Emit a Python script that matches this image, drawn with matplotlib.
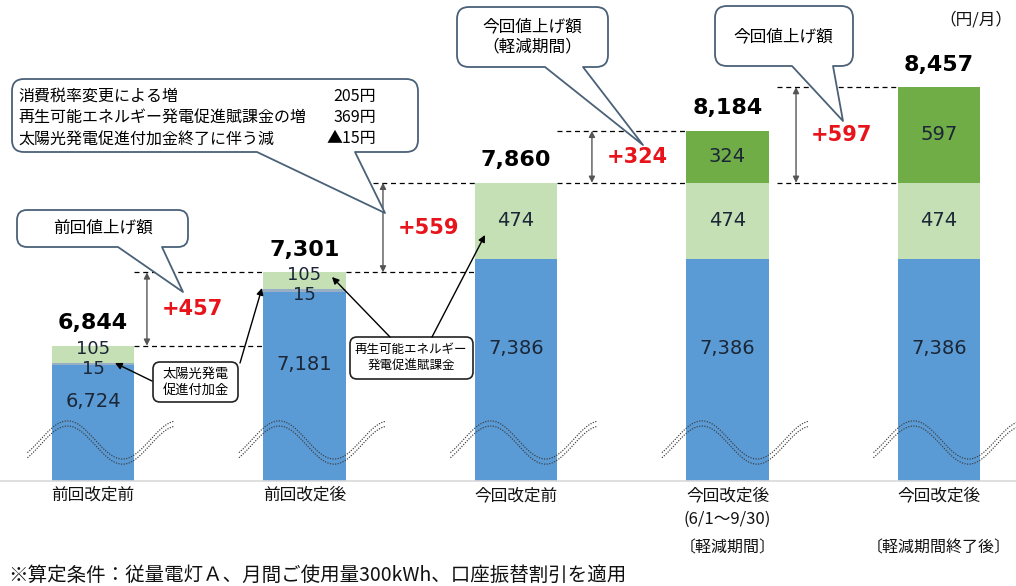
import matplotlib
matplotlib.use('Agg')
import matplotlib.pyplot as plt
import matplotlib.transforms as mtransforms
from matplotlib.path import Path
from matplotlib.patches import PathPatch
import numpy as np

plt.rcParams['font.family'] = ['Noto Sans CJK JP', 'DejaVu Sans']

# ---------------- data ----------------
categories = ['前回改定前', '前回改定後', '今回改定前', '今回改定後\n(6/1～9/30)', '今回改定後']
periods = ['', '', '', '〔軽減期間〕', '〔軽減期間終了後〕']
base = [6724, 7181, 7386, 7386, 7386]          # 基本部分
solar = [15, 15, 0, 0, 0]                      # 太陽光発電促進付加金
renew = [105, 105, 474, 474, 474]              # 再生可能エネルギー発電促進賦課金
increase = [0, 0, 0, 324, 597]                 # 今回値上げ額
delta_pairs = [(0, 1), (1, 2), (2, 3), (2, 4)]
cond_items = ['消費税率変更による増', '再生可能エネルギー発電促進賦課金の増', '太陽光発電促進付加金終了に伴う減']
cond_values = ['205円', '369円', '▲15円']
unit_label = '（円/月）'
footnote = '※算定条件：従量電灯Ａ、月間ご使用量300kWh、口座振替割引を適用'

# ---------------- colours ----------------
C_BASE = '#5B9BD5'
C_SOLAR = '#97AEC4'
C_RENEW = '#C5E0B4'
C_INC = '#70AD47'
C_EDGE = '#4A6178'
C_RED = '#E8141B'
C_LBL = '#1B2636'

W, H = 1016, 586
fig = plt.figure(figsize=(W / 100, H / 100), dpi=100)
ax = fig.add_axes([0, 1 - 481 / H, 1, 481 / H])
ax.set_xlim(-93 / 211.5, (W - 93) / 211.5)
ax.set_ylim(6000, 9000)
for s in ['top', 'left', 'right']:
    ax.spines[s].set_visible(False)
ax.spines['bottom'].set_color('#D9D9D9')
ax.spines['bottom'].set_linewidth(1.2)
ax.set_yticks([])
ax.set_xticks([])

x = np.arange(len(categories))
bw = 0.392
b1 = np.array(base, dtype=float)
b2 = b1 + np.array(solar)
b3 = b2 + np.array(renew)
totals = b3 + np.array(increase)

ax.bar(x, base, bw, color=C_BASE, zorder=2)
ax.bar(x, solar, bw, bottom=b1, color=C_SOLAR, zorder=2)
ax.bar(x, renew, bw, bottom=b2, color=C_RENEW, zorder=2)
ax.bar(x, increase, bw, bottom=b3, color=C_INC, zorder=2)

# break waves
for i in x:
    xs = np.linspace(i - 0.31, i + 0.385, 200)
    yc = 6240 + 119 * np.cos(np.pi * (xs - i + 0.12) / 0.26)
    for off in (16, -16):
        ax.plot(xs, yc + off, ls=(0, (1, 1.2)), color='#3A3A3A', lw=0.85, zorder=3)

# segment labels
for i in x:
    ax.text(i, (base[i] + 6270) / 2, f'{base[i]:,}', ha='center', va='center',
            fontsize=14, color=C_LBL, family='DejaVu Sans', zorder=4)
    if solar[i]:
        ax.annotate(f'{solar[i]}', (i, b1[i] + solar[i] / 2), xytext=(0, -3.5),
                    textcoords='offset points', ha='center', va='center',
                    fontsize=13, color=C_LBL, family='DejaVu Sans', zorder=4)
        ax.annotate(f'{renew[i]}', (i, b2[i] + renew[i] / 2), xytext=(0, 4),
                    textcoords='offset points', ha='center', va='center',
                    fontsize=13, color=C_LBL, family='DejaVu Sans', zorder=4)
    else:
        ax.text(i, b2[i] + renew[i] / 2, f'{renew[i]}', ha='center', va='center',
                fontsize=14, color=C_LBL, family='DejaVu Sans', zorder=4)
    if increase[i]:
        ax.text(i, b3[i] + increase[i] / 2, f'{increase[i]}', ha='center', va='center',
                fontsize=14, color=C_LBL, family='DejaVu Sans', zorder=4)
    ax.annotate(f'{int(totals[i]):,}', (i, totals[i]), xytext=(0, 9),
                textcoords='offset points', ha='center', va='bottom',
                fontsize=16, fontweight='bold', color='black', family='DejaVu Sans')

# dashed reference lines
def dline(y, xa, xb):
    ax.plot([xa, xb], [y, y], color='black', lw=0.9, ls=(0, (4, 3)), zorder=1)

R = lambda i: i + bw / 2
L = lambda i: i - bw / 2
dline(totals[0], R(0), L(1))
dline(totals[1], R(0), L(1))
dline(totals[1], R(1), L(2))
dline(totals[2], 1.324, L(2))
dline(totals[2], R(2), L(3))
dline(totals[3], R(2), L(3))
dline(totals[2], 3.234, L(4))
dline(totals[4], 3.234, L(4))

# delta arrows and labels
arrow_x = [0.255, 1.371, 2.359, 3.324]
for (a, b), xa in zip(delta_pairs, arrow_x):
    lo, hi = totals[a], totals[b]
    ax.annotate('', xy=(xa, hi), xytext=(xa, lo),
                arrowprops=dict(arrowstyle='<|-|>', color='#555555', lw=1.0,
                                mutation_scale=9, shrinkA=0, shrinkB=0))
    ax.text(xa + 0.215, (lo + hi) / 2, f'+{int(hi - lo)}', ha='center', va='center',
            fontsize=15, fontweight='bold', color=C_RED, family='DejaVu Sans')

# ---------------- overlay in pixel coordinates ----------------
ov = fig.add_axes([0, 0, 1, 1], facecolor='none')
ov.set_xlim(0, W)
ov.set_ylim(H, 0)
ov.axis('off')
bt = mtransforms.blended_transform_factory(ax.transData, ov.transData)

for i, (c, p) in enumerate(zip(categories, periods)):
    ov.text(i, 487, c, transform=bt, ha='center', va='top', fontsize=12,
            linespacing=1.55, color='#111111')
    if p:
        ov.text(i, 548, p, transform=bt, ha='center', va='center', fontsize=11.5,
                color='#111111')

ov.text(8, 575, footnote, ha='left', va='center', fontsize=14, color='#111111')
ov.text(1012, 20, unit_label, ha='right', va='center', fontsize=12, color='#111111')


def bubble(x0, y0, x1, y1, r, t1, t2, tip, lw=1.3):
    M, Li, C3, CL = Path.MOVETO, Path.LINETO, Path.CURVE3, Path.CLOSEPOLY
    verts = [(x0 + r, y0), (x1 - r, y0), (x1, y0), (x1, y0 + r), (x1, y1 - r),
             (x1, y1), (x1 - r, y1), (t2, y1), tip, (t1, y1), (x0 + r, y1),
             (x0, y1), (x0, y1 - r), (x0, y0 + r), (x0, y0), (x0 + r, y0), (x0 + r, y0)]
    codes = [M, Li, C3, C3, Li, C3, C3, Li, Li, Li, Li, C3, C3, Li, C3, C3, CL]
    ov.add_patch(PathPatch(Path(verts, codes), facecolor='white', edgecolor=C_EDGE,
                           lw=lw, joinstyle='round', zorder=5))


def rbox(x0, y0, x1, y1, r, ec='#222222', lw=1.2):
    bubble(x0, y0, x1, y1, r, (x0 + x1) / 2, (x0 + x1) / 2, ((x0 + x1) / 2, y1))
    ov.patches[-1].set_edgecolor(ec)
    ov.patches[-1].set_linewidth(lw)


# callout 1
bubble(17, 210, 188, 247, 10, 118, 162, (183, 292))
ov.text(103, 228, '前回値上げ額', ha='center', va='center', fontsize=12, zorder=6)
# callout 2 (big)
bubble(12, 79, 418, 152, 12, 257, 355, (385, 213))
for k, (t, v) in enumerate(zip(cond_items, cond_values)):
    yy = 96 + k * 21.5
    ov.text(18, yy, t, ha='left', va='center', fontsize=11.5, zorder=6)
    ov.text(376, yy, v, ha='right', va='center', fontsize=11.5, zorder=6)
# callout 3
bubble(457, 7, 608, 67, 12, 545, 583, (643, 145))
ov.text(532, 37, '今回値上げ額\n（軽減期間）', ha='center', va='center', fontsize=12,
        linespacing=1.25, zorder=6)
# callout 4
bubble(715, 6, 853, 66, 12, 792, 833, (843, 121))
ov.text(783, 37, '今回値上げ額', ha='center', va='center', fontsize=12, zorder=6)

# small label boxes
rbox(153, 362, 238, 402, 7)
ov.text(196, 382, '太陽光発電\n促進付加金', ha='center', va='center', fontsize=9.5,
        linespacing=1.3, zorder=6)
rbox(350, 337, 473, 379, 7)
ov.text(411, 358, '再生可能エネルギー\n発電促進賦課金', ha='center', va='center', fontsize=9,
        linespacing=1.3, zorder=6)

arr = dict(arrowstyle='-|>', color='black', lw=1.0, mutation_scale=10, shrinkA=0, shrinkB=0)
for start, end in [((152, 381), (115, 363)), ((240, 363), (262, 288)),
                   ((390, 337), (332, 277)), ((432, 337), (485, 235))]:
    ov.annotate('', xy=end, xytext=start, arrowprops=arr, zorder=6)

fig.savefig('out.png', dpi=100)
